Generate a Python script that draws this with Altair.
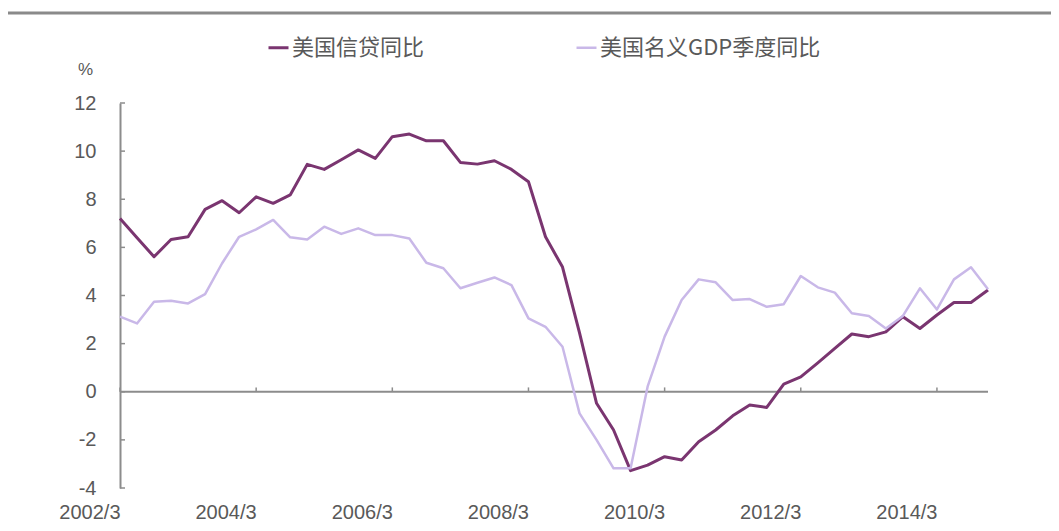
import altair as alt
import pandas as pd

quarters = [f"{y}/{m}" for y in range(2002, 2015) for m in (3, 6, 9, 12)]
tick_labels = ["2002/3", "2004/3", "2006/3", "2008/3", "2010/3", "2012/3", "2014/3"]
y_ticks = [-4, -2, 0, 2, 4, 6, 8, 10, 12]
series_names = ["美国信贷同比", "美国名义GDP季度同比"]

credit = [7.2, 6.4, 5.61, 6.33, 6.44, 7.58, 7.94, 7.44, 8.1, 7.83, 8.18, 9.45, 9.24,
          9.64, 10.05, 9.7, 10.6, 10.71, 10.43, 10.43, 9.53, 9.46, 9.6, 9.24, 8.73,
          6.44, 5.18, 2.45, -0.48, -1.59, -3.28, -3.05, -2.7, -2.84, -2.08, -1.59,
          -1.0, -0.55, -0.65, 0.32, 0.62, 1.2, 1.8, 2.4, 2.29, 2.49, 3.12, 2.63,
          3.19, 3.71, 3.71, 4.23]
gdp = [3.12, 2.84, 3.74, 3.78, 3.67, 4.06, 5.34, 6.44, 6.75, 7.14, 6.42, 6.33, 6.86,
       6.56, 6.79, 6.51, 6.51, 6.37, 5.36, 5.13, 4.3, 4.53, 4.75, 4.43, 3.05, 2.7,
       1.87, -0.9, -2.0, -3.18, -3.18, 0.21, 2.29, 3.81, 4.67, 4.55, 3.81, 3.85,
       3.53, 3.64, 4.81, 4.34, 4.12, 3.26, 3.15, 2.63, 3.15, 4.3, 3.42, 4.67, 5.17,
       4.26]

dark = "#7A3570"
light = "#C9B8E8"
axis_gray = "#8C8C8C"
text_gray = "#595959"

df = pd.DataFrame({
    "quarter": quarters + quarters,
    "value": credit + gdp,
    "series": [series_names[0]] * len(quarters) + [series_names[1]] * len(quarters),
})

x_enc = alt.X(
    "quarter:O",
    scale=alt.Scale(type="point", domain=quarters, padding=0),
    axis=alt.Axis(values=tick_labels, labelAngle=0, domain=False, ticks=False,
                  grid=False, labelPadding=24, labelFontSize=20,
                  labelColor=text_gray, labelFont="Liberation Sans", title=None),
)
y_scale = alt.Scale(domain=[-4, 12], nice=False, zero=False)
y_enc = alt.Y(
    "value:Q",
    scale=y_scale,
    axis=alt.Axis(values=y_ticks, ticks=False, grid=False, domainColor=axis_gray,
                  domainWidth=2, labelPadding=24, labelFontSize=20,
                  labelExpr="'' + datum.value",
                  labelColor=text_gray, labelFont="Liberation Sans",
                  title="%", titleAngle=0, titleX=-35, titleY=-25,
                  titleAlign="center", titleFontSize=17, titleFontWeight="normal",
                  titleColor=text_gray, titleFont="Liberation Sans"),
)

zero_line = alt.Chart(pd.DataFrame({"v": [0]})).mark_rule(
    color=axis_gray, strokeWidth=2
).encode(y=alt.Y("v:Q", scale=y_scale))

x_ticks = alt.Chart(pd.DataFrame({"q": tick_labels})).mark_rule(
    color=axis_gray, strokeWidth=1.5
).encode(
    x=alt.X("q:O", scale=alt.Scale(type="point", domain=quarters, padding=0)),
    y=alt.datum(0),
    y2=alt.datum(0.18),
)

y_tick_marks = alt.Chart(pd.DataFrame({"t": y_ticks})).mark_rule(
    color=axis_gray, strokeWidth=1.5
).encode(
    y=alt.Y("t:Q", scale=y_scale),
    x=alt.value(0),
    x2=alt.value(5),
)

top_line = alt.Chart(pd.DataFrame({"a": [0]})).mark_rule(
    color="#8A8A8A", strokeWidth=3
).encode(x=alt.value(-120), x2=alt.value(960), y=alt.value(-90))

lines = alt.Chart(df).mark_line(strokeJoin="round").encode(
    x=x_enc,
    y=y_enc,
    color=alt.Color(
        "series:N",
        scale=alt.Scale(domain=series_names, range=[dark, light]),
        legend=alt.Legend(
            orient="none", legendX=147, legendY=-67, direction="horizontal",
            title=None, symbolType="stroke", symbolSize=400, symbolStrokeWidth=3,
            labelFontSize=22, labelFont="Noto Sans CJK SC", labelColor=text_gray,
            labelLimit=0, columnPadding=146, labelOffset=2, padding=0,
        ),
    ),
    strokeWidth=alt.StrokeWidth(
        "series:N",
        scale=alt.Scale(domain=series_names, range=[3, 2.5]),
        legend=None,
    ),
    order=alt.Order("series:N"),
)

chart = alt.layer(top_line, zero_line, x_ticks, y_tick_marks, lines).properties(
    width=868,
    height=385,
    autosize=alt.AutoSizeParams(type="none"),
    padding={"left": 112, "top": 95, "right": 63, "bottom": 35},
    background="white",
).configure_view(stroke=None)

chart.save("out.html", embed_options={"renderer": "svg", "actions": False})
